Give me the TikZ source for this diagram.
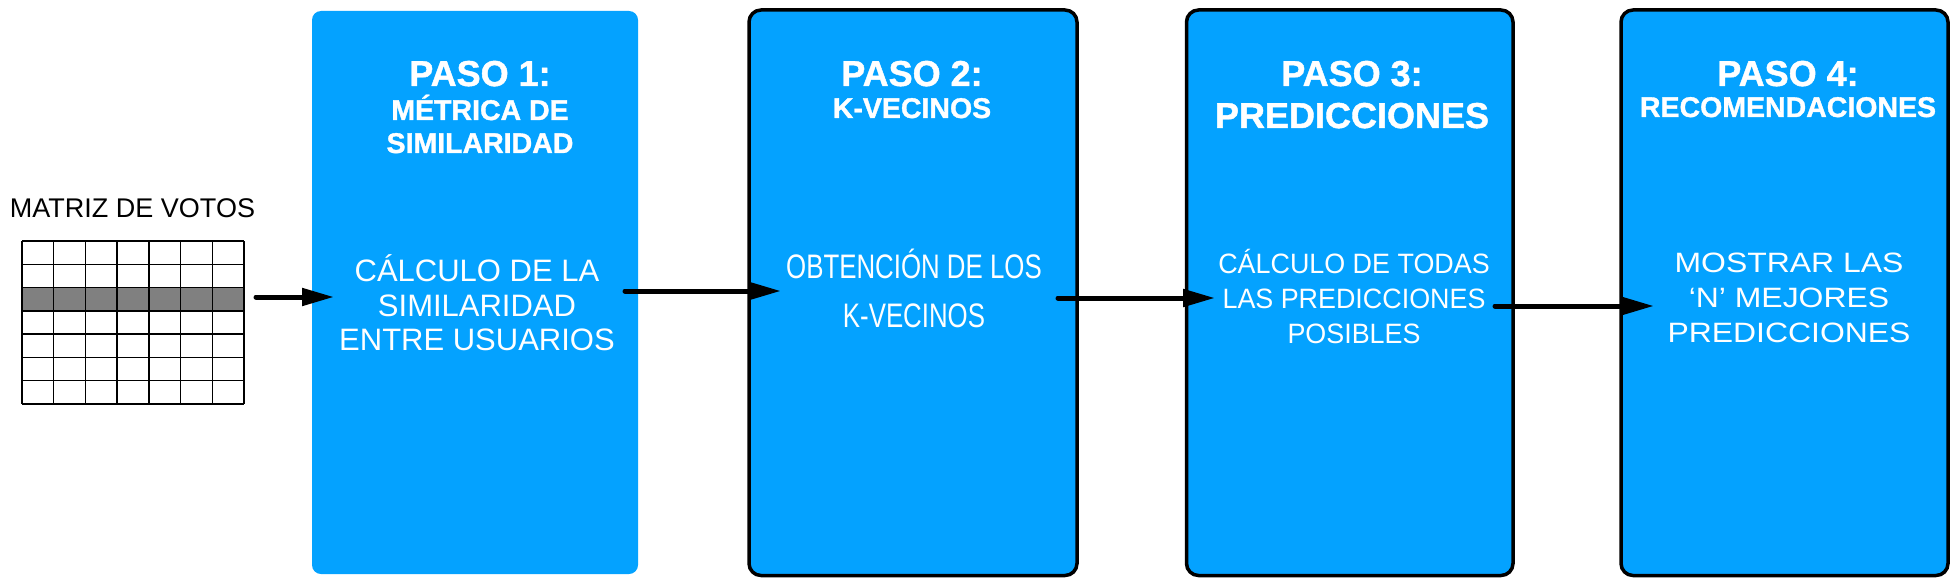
\documentclass[tikz,border=0pt]{standalone}
\usepackage{fontspec}
\setmainfont{Liberation Sans}
\newfontfamily\fA{Liberation Sans}
\newfontfamily\fB{Liberation Sans}[FakeStretch=0.76]
\newfontfamily\fC{Liberation Sans}[FakeStretch=0.96]
\newfontfamily\fD{Liberation Sans}[FakeStretch=1.14]
\newfontfamily\fH{Liberation Sans}[BoldFeatures={FakeBold=1.2}]
\usetikzlibrary{arrows.meta}
\definecolor{boxblue}{RGB}{4,162,255}
\definecolor{rowgray}{RGB}{128,128,128}
\begin{document}
\begin{tikzpicture}[x=1pt,y=-1pt,
  stepbox/.style={rectangle, fill=boxblue, inner sep=0pt, outer sep=0pt, anchor=north west},
  framed/.style={draw=black, line width=3.5pt, rounded corners=12pt},
  hbig/.style={text=white, inner sep=0pt, anchor=base, font=\fH\bfseries\fontsize{36}{40}\selectfont},
  hsmall/.style={text=white, inner sep=0pt, anchor=base, font=\fH\bfseries\fontsize{28.5}{32}\selectfont},
  bodyA/.style={text=white, inner sep=0pt, anchor=base, font=\fA\fontsize{31}{34}\selectfont},
  bodyB/.style={text=white, inner sep=0pt, anchor=base, font=\fB\fontsize{34}{38}\selectfont},
  bodyC/.style={text=white, inner sep=0pt, anchor=base, font=\fC\fontsize{28}{32}\selectfont},
  bodyD/.style={text=white, inner sep=0pt, anchor=base, font=\fD\fontsize{28}{32}\selectfont},
  gridline/.style={line width=1.5pt, black},
  flow/.style={line width=5pt, line cap=round, -{Triangle[length=32pt,width=17pt]}},
]
\useasboundingbox (0,0) rectangle (1959,583);

% matrix title and grid
\node[inner sep=0pt, anchor=base, font=\fontsize{27}{30}\selectfont] (title) at (132.5,217) {MATRIZ DE VOTOS};
\fill[rowgray] (22,288) rectangle (244,311);
\foreach \i in {0,...,7} {
  \draw[gridline] ({22+\i*31.71},241) -- ({22+\i*31.71},404);
  \draw[gridline] (22,{241+\i*23.29}) -- (244,{241+\i*23.29});
}

% boxes
\node[stepbox, rounded corners=9pt, minimum width=326pt, minimum height=563pt] (b1) at (312,11) {};
\node[stepbox, framed, minimum width=328pt, minimum height=565.5pt] (b2) at (749,10) {};
\node[stepbox, framed, minimum width=326.5pt, minimum height=565.5pt] (b3) at (1186.5,10) {};
\node[stepbox, framed, minimum width=327pt, minimum height=565.5pt] (b4) at (1621,10) {};

% box 1 texts
\node[hbig] (h1a) at (480,86) {PASO 1:};
\node[hsmall] (h1b) at (480,120) {MÉTRICA DE};
\node[hsmall] (h1c) at (480,153) {SIMILARIDAD};
\node[bodyA] (t1a) at (477,281) {CÁLCULO DE LA};
\node[bodyA] (t1b) at (477,316) {SIMILARIDAD};
\node[bodyA] (t1c) at (477,350) {ENTRE USUARIOS};

% box 2 texts
\node[hbig] (h2a) at (912,86) {PASO 2:};
\node[hsmall] (h2b) at (912,118) {K-VECINOS};
\node[bodyB] (t2a) at (914,278) {OBTENCIÓN DE LOS};
\node[bodyB] (t2b) at (914,327) {K-VECINOS};

% box 3 texts
\node[hbig] (h3a) at (1352,86) {PASO 3:};
\node[hbig] (h3b) at (1352,128) {PREDICCIONES};
\node[bodyC] (t3a) at (1354,273) {CÁLCULO DE TODAS};
\node[bodyC] (t3b) at (1354,308) {LAS PREDICCIONES};
\node[bodyC] (t3c) at (1354,343) {POSIBLES};

% box 4 texts
\node[hbig] (h4a) at (1788,86) {PASO 4:};
\node[hsmall] (h4b) at (1788,117) {RECOMENDACIONES};
\node[bodyD] (t4a) at (1789,272) {MOSTRAR LAS};
\node[bodyD] (t4b) at (1789,307) {‘N’ MEJORES};
\node[bodyD] (t4c) at (1789,342) {PREDICCIONES};

% arrows
\coordinate (a1s) at (256,297);
\coordinate (a1e) at (334,297);
\coordinate (a2s) at (625,291);
\coordinate (a2e) at (781,291);
\coordinate (a3s) at (1058,298);
\coordinate (a3e) at (1215,298);
\coordinate (a4s) at (1495,306);
\coordinate (a4e) at (1654,306);
\draw[flow] (a1s) -- (a1e);
\draw[flow] (a2s) -- (a2e);
\draw[flow] (a3s) -- (a3e);
\draw[flow] (a4s) -- (a4e);
\end{tikzpicture}
\end{document}
